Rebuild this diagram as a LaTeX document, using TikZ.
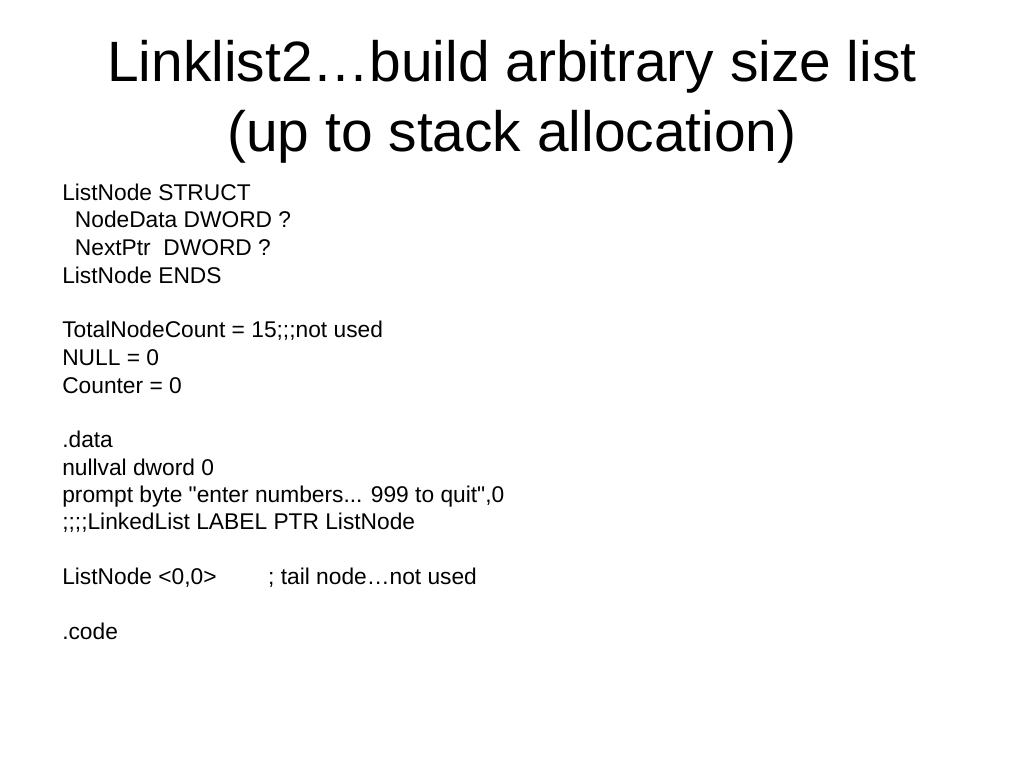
\documentclass[tikz,border=0pt]{standalone}
\usepackage{fontspec}
\setmainfont{Liberation Sans}[Ligatures=TeXOff]
\usetikzlibrary{positioning}
\tikzset{
	heading/.style  = {anchor=base, inner sep=0pt,
		font=\fontsize{40}{48}\selectfont},
	codeline/.style = {anchor=base west, inner sep=0pt,
		font=\fontsize{16}{19.2}\selectfont},
}

\begin{document}
\begin{tikzpicture}[ x=0.703125pt,               %<--one unit is one pixel of the slide
					y=-0.703125pt ]              %<--y runs downwards, as on the slide

	\useasboundingbox (0,0) rectangle (1024,768);

	\draw%-----------------------------------------------------------------------------------------
	%Drawing the Title:
	node[heading](title1) at (512,82) {Linklist2…build arbitrary size list}
	node[heading](title2) at (512,152) {(up to stack allocation)}
	%Drawing the Struct:
	node[codeline](structHead) at (62,201) {ListNode STRUCT}
	node[codeline](nodeData) at (62,228) {~~NodeData DWORD ?}
	node[codeline](nextPtr) at (62,256) {~~NextPtr~~DWORD ?}
	node[codeline](structEnd) at (62,283) {ListNode ENDS}
	%Drawing the Constants:
	node[codeline](totalCount) at (62,338) {TotalNodeCount = 15;;;not used}
	node[codeline](nullConst) at (62,365) {NULL = 0}
	node[codeline](counter) at (62,393) {Counter = 0}
	%Drawing the Data Segment:
	node[codeline](dataSeg) at (62,447) {.data}
	node[codeline](nullval) at (62,475) {nullval dword 0}
	node[codeline](prompt) at (62,502) {prompt byte "enter numbers... 999 to quit",0}
	node[codeline](linkedList) at (62,529) {;;;;LinkedList LABEL PTR ListNode}
	node[codeline](tailNode) at (62,584) {\makebox[144.8pt][l]{ListNode <0,0>}; tail node…not used}
	%Drawing the Code Segment:
	node[codeline](codeSeg) at (62,639) {.code}
	;%---------------------------------------------------------------------------------------------

\end{tikzpicture}
\end{document}
